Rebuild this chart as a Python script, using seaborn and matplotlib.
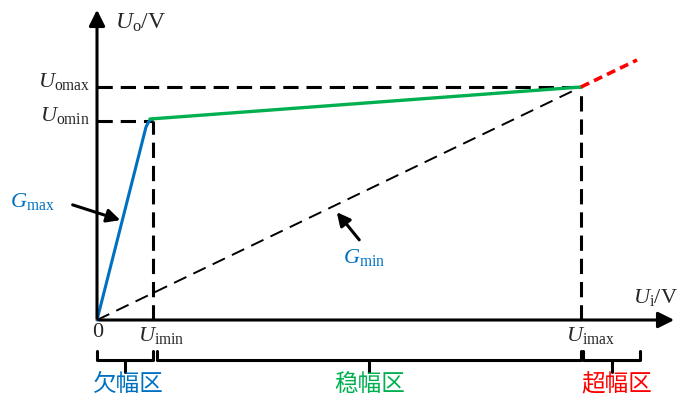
import matplotlib
matplotlib.use('Agg')
import matplotlib.pyplot as plt
import seaborn as sns

sns.set_style('white')
plt.rcParams['mathtext.fontset'] = 'custom'
plt.rcParams['mathtext.rm'] = 'Liberation Serif'
plt.rcParams['mathtext.it'] = 'Liberation Serif:italic'
plt.rcParams['font.family'] = ['Noto Sans CJK SC', 'DejaVu Sans']

# key levels (diagram units, origin at 0)
u_imin, u_imax = 56, 484
u_omin, u_omax = 199, 233

# characteristic curve pieces
blue_x = [0, 49, 51, 53, 56]
blue_y = [0, 193, 197, 200, 201]
green_x = [53, 484]
green_y = [201, 233]
red_x = [484, 540]
red_y = [233, 260]
gmin_x = [0, 484]
gmin_y = [0, 233]

# region labels and colours
regions = ['欠幅区', '稳幅区', '超幅区']
region_spans = [(0, 56), (60, 484), (486, 543)]
region_label_x = [31, 273, 520]
region_colors = ['#0070C0', '#00B050', '#FF0000']

fig = plt.figure(figsize=(6.78, 4.06), dpi=100)
ax = fig.add_axes([0, 0, 1, 1])
ax.set_xlim(-97, 581)
ax.set_ylim(-85, 321)
ax.axis('off')

# guide lines
dash = (0, (5, 2.6))
ax.plot([0, u_imin], [u_omin, u_omin], color='k', lw=2.2, linestyle=dash)
ax.plot([u_imin, u_imin], [0, u_omin], color='k', lw=2.2, linestyle=dash)
ax.plot([0, u_imax], [u_omax, u_omax], color='k', lw=2.2, linestyle=dash)
ax.plot([u_imax, u_imax], [0, u_omax], color='k', lw=2.2, linestyle=dash)

sns.lineplot(x=gmin_x, y=gmin_y, ax=ax, color='k', lw=1.4, linestyle=(0, (7, 4)))
sns.lineplot(x=blue_x, y=blue_y, ax=ax, color='#0070C0', lw=2.2, sort=False)
sns.lineplot(x=green_x, y=green_y, ax=ax, color='#00B050', lw=2.4)
sns.lineplot(x=red_x, y=red_y, ax=ax, color='#FF0000', lw=2.6, linestyle=(0, (2.5, 1.5)))

# axes with arrows
ax.annotate('', xy=(0, 313), xytext=(0, -1),
            arrowprops=dict(arrowstyle='-|>', lw=2.2, color='k', mutation_scale=24))
ax.annotate('', xy=(580, 0), xytext=(-1, 0),
            arrowprops=dict(arrowstyle='-|>', lw=2.2, color='k', mutation_scale=24))

# G arrows
ax.annotate('', xy=(26, 99), xytext=(-27, 116),
            arrowprops=dict(arrowstyle='-|>', lw=2.2, color='k', mutation_scale=20))
ax.annotate('', xy=(238, 110), xytext=(264, 78),
            arrowprops=dict(arrowstyle='-|>', lw=2.2, color='k', mutation_scale=20))

fs = 16
ax.text(1, -12, '0', fontsize=fs, family='Liberation Serif', ha='center', va='center')
ax.text(u_imin + 8, -14, r'$U_{\mathrm{imin}}$', fontsize=fs, ha='center', va='center')
ax.text(u_imax + 9, -14, r'$U_{\mathrm{imax}}$', fontsize=fs, ha='center', va='center')
ax.text(558, 24, r'$U_{\mathrm{i}}\mathrm{/V}$', fontsize=fs, ha='center', va='center')
ax.text(44, 298, r'$U_{\mathrm{o}}\mathrm{/V}$', fontsize=17, ha='center', va='center')
ax.text(-7, 241, r'$U_{\mathrm{omax}}$', fontsize=fs, ha='right', va='center')
ax.text(-7, 206, r'$U_{\mathrm{omin}}$', fontsize=fs, ha='right', va='center')
ax.text(-65, 120, r'$G_{\mathrm{max}}$', fontsize=fs, color='#0070C0', ha='center', va='center')
ax.text(267, 64, r'$G_{\mathrm{min}}$', fontsize=fs, color='#0070C0', ha='center', va='center')

# braces and region labels
for name, (a, b), lx, c in zip(regions, region_spans, region_label_x, region_colors):
    m = (a + b) / 2
    ax.plot([a, a, b, b], [-31, -40, -40, -31], color='k', lw=2.2, solid_joinstyle='round')
    ax.plot([m, m], [-40, -52], color='k', lw=2.2)
    ax.text(lx, -64, name, fontsize=17, color=c, ha='center', va='center')

fig.savefig('out.png', dpi=100)
